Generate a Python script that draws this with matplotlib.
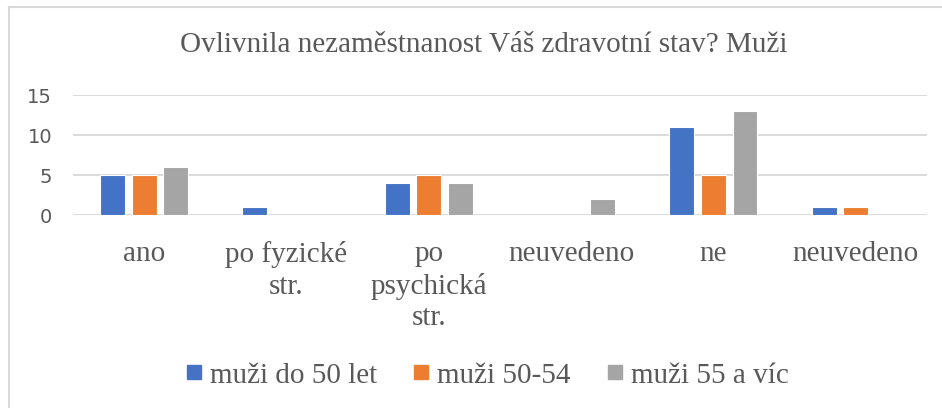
import numpy as np
import matplotlib.pyplot as plt
from matplotlib.lines import Line2D

categories = ["ano", "po fyzické\nstr.", "po\npsychická\nstr.", "neuvedeno", "ne", "neuvedeno"]
series_names = ["muži do 50 let", "muži 50-54", "muži 55 a víc"]
do50 = [5, 1, 4, 0, 11, 1]
m50_54 = [5, 0, 5, 0, 5, 1]
m55 = [6, 0, 4, 2, 13, 0]
colors = ["#4472C4", "#ED7D31", "#A5A5A5"]

serif = "Liberation Serif"
txt = "#595959"

fig = plt.figure(figsize=(9.42, 4.08), dpi=100)
ax = fig.add_axes([0.0775, 0.473, 0.9065, 0.294])

x = np.arange(len(categories))
w = 0.175
step = 0.222
for i, (vals, c) in enumerate(zip([do50, m50_54, m55], colors)):
    ax.bar(x + (i - 1) * step, vals, w, color=c, edgecolor="white", linewidth=0.8,
           label=series_names[i], zorder=3)

ax.set_xlim(-0.5, len(categories) - 0.5)
ax.set_ylim(0, 15)
ax.set_yticks([0, 5, 10, 15])
ax.grid(axis="y", color="#D9D9D9", linewidth=1.3, zorder=0)
for s in ax.spines.values():
    s.set_visible(False)
ax.tick_params(axis="both", length=0)
ax.tick_params(axis="y", labelsize=14, labelcolor=txt, pad=15)
ax.set_xticks(x)
ax.set_xticklabels(categories, fontfamily=serif, fontsize=21, color=txt,
                   linespacing=1.27, va="top")
ax.tick_params(axis="x", pad=19)

fig.text(0.514, 0.89, "Ovlivnila nezaměstnanost Váš zdravotní stav? Muži",
         ha="center", va="center", fontfamily=serif, fontsize=21, color=txt)

handles = [Line2D([], [], marker="s", linestyle="none", markersize=10,
                  markerfacecolor=c, markeredgecolor=c) for c in colors]
fig.legend(handles, series_names, loc="center", bbox_to_anchor=(0.517, 0.08), ncol=3,
           frameon=False, prop={"family": serif, "size": 21}, labelcolor=txt,
           handletextpad=0.25, columnspacing=1.2, handlelength=0.6)

# chart border
fig.add_artist(Line2D([9 / 942, 9 / 942], [0, 1 - 7 / 408], transform=fig.transFigure,
                      color="#D9D9D9", linewidth=1.5))
fig.add_artist(Line2D([9 / 942, 1], [1 - 7 / 408, 1 - 7 / 408], transform=fig.transFigure,
                      color="#D9D9D9", linewidth=1.5))

fig.savefig("out.png", dpi=100)
